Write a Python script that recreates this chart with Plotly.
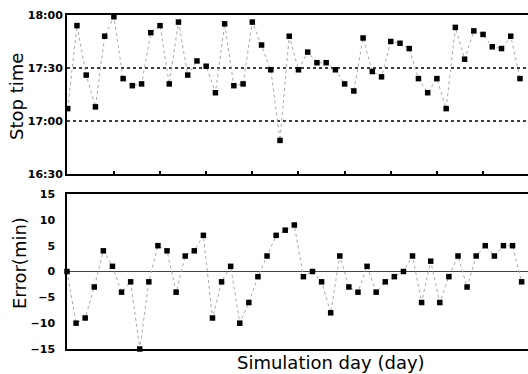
import plotly.graph_objects as go

# ---- data ----
stop_days = list(range(0, 50))
stop_times = ["17:07", "17:54", "17:26", "17:08", "17:48", "17:59", "17:24", "17:20", "17:21", "17:50",
              "17:54", "17:21", "17:56", "17:26", "17:34", "17:31", "17:16", "17:55", "17:20", "17:21",
              "17:56", "17:43", "17:29", "16:49", "17:48", "17:29", "17:39", "17:33", "17:33", "17:29",
              "17:21", "17:17", "17:47", "17:28", "17:25", "17:45", "17:44", "17:41", "17:24", "17:16",
              "17:24", "17:07", "17:53", "17:35", "17:51", "17:49", "17:42", "17:41", "17:48", "17:24"]

error_days = list(range(0, 51))
error_min = [0, -10, -9, -3, 4, 1, -4, -2, -15, -2,
             5, 4, -4, 3, 4, 7, -9, -2, 1, -10,
             -6, -1, 3, 7, 8, 9, -1, 0, -2, -8,
             3, -3, -4, 1, -4, -2, -1, 0, 3, -6,
             2, -6, -1, 3, -3, 3, 5, 3, 5, 5, -2]

time_ticks = ["16:30", "17:00", "17:30", "18:00"]
ref_times = ["17:00", "17:30"]
error_ticks = [-15, -10, -5, 0, 5, 10, 15]
day_ticks = [5, 10, 15, 20, 25, 30, 35, 40, 45]


def to_min(s):
    h, m = s.split(":")
    return (int(h) - 17) * 60 + int(m)


stop_min = [to_min(s) for s in stop_times]

W, H = 528, 374
L, R, T, B = 67, 0, 15, 25
pw, ph = W - L - R, H - T - B

fig = go.Figure()
fig.add_trace(go.Scatter(
    x=stop_days, y=stop_min, mode="lines+markers", xaxis="x", yaxis="y",
    line=dict(color="#a8a8a8", width=1, dash="dot"),
    marker=dict(symbol="square", size=5.5, color="black"),
    cliponaxis=False, showlegend=False, hoverinfo="skip"))
fig.add_trace(go.Scatter(
    x=error_days, y=error_min, mode="lines+markers", xaxis="x2", yaxis="y2",
    line=dict(color="#a8a8a8", width=1, dash="dot"),
    marker=dict(symbol="square", size=5.5, color="black"),
    cliponaxis=False, showlegend=False, hoverinfo="skip"))

tickfont = dict(family="DejaVu Sans", size=11, color="black", weight="bold")

top_bottom = (H - B - 174) / ph
bot_top = (H - B - 194) / ph

fig.update_layout(
    width=W, height=H,
    margin=dict(l=L, r=R, t=T, b=B),
    paper_bgcolor="white", plot_bgcolor="white",
    xaxis=dict(domain=[0, 1], anchor="y", range=[-0.08, 49.87],
               showline=True, linewidth=2, linecolor="black", mirror=True,
               ticks="inside", tickvals=day_ticks, ticklen=3, tickwidth=1.5, tickcolor="black",
               showticklabels=False, showgrid=False, zeroline=False),
    yaxis=dict(domain=[top_bottom, 1], anchor="x", range=[-30, 60],
               tickvals=[to_min(t) for t in time_ticks], ticktext=time_ticks,
               tickfont=tickfont, ticks="",
               showline=True, linewidth=2, linecolor="black", mirror=False,
               showgrid=False, zeroline=False),
    xaxis2=dict(domain=[0, 1], anchor="y2", range=[0, 50.7],
                showline=True, linewidth=1.5, linecolor="black", mirror=True,
                ticks="", showticklabels=False, showgrid=False, zeroline=False),
    yaxis2=dict(domain=[0, bot_top], anchor="x2", range=[-15, 15],
                tickvals=error_ticks, tickfont=tickfont, ticks="", ticklabelstandoff=8,
                showline=True, linewidth=1.5, linecolor="black", mirror=False,
                showgrid=False, zeroline=False),
)

for t in ref_times:
    fig.add_shape(type="line", xref="paper", x0=0, x1=1, yref="y", y0=to_min(t), y1=to_min(t),
                  line=dict(color="black", width=1.5, dash="dot"), layer="below")
fig.add_shape(type="line", xref="paper", x0=0, x1=1, yref="y2", y0=0, y1=0,
              line=dict(color="#444", width=1), layer="below")

title_font = dict(family="DejaVu Sans", size=18, color="black")
fig.add_annotation(text="Stop time", xref="paper", yref="paper",
                   x=(16.5 - L) / pw, y=(H - B - 96.5) / ph, textangle=-90,
                   showarrow=False, font=title_font, xanchor="center", yanchor="middle")
fig.add_annotation(text="Error(min)", xref="paper", yref="paper",
                   x=(19 - L) / pw, y=(H - B - 263) / ph, textangle=-90,
                   showarrow=False, font=title_font, xanchor="center", yanchor="middle")
fig.add_annotation(text="Simulation day (day)", xref="paper", yref="paper",
                   x=(331 - L) / pw, y=(H - B - 362) / ph,
                   showarrow=False, font=title_font, xanchor="center", yanchor="middle")

fig.write_html("out.html", config={"displayModeBar": False},
               post_script="document.body.style.margin='0';document.body.style.padding='0';document.documentElement.style.overflow='hidden';")
